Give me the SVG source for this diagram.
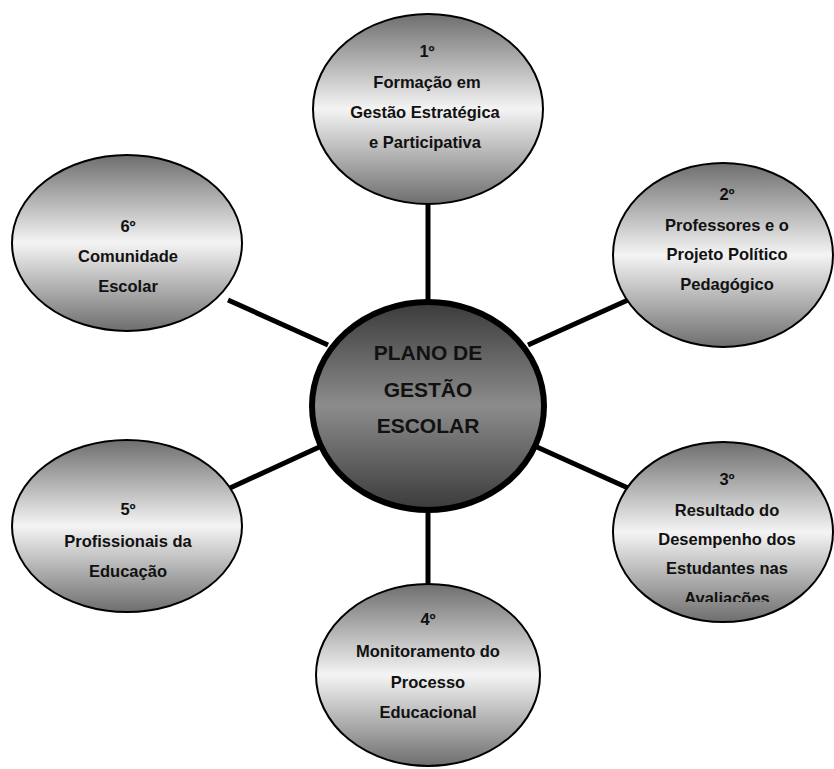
<svg xmlns="http://www.w3.org/2000/svg" width="834" height="769" viewBox="0 0 834 769">
  <defs>
    <linearGradient id="gOuter" x1="0" y1="0" x2="0" y2="1">
      <stop offset="0" stop-color="#6e6e6e"/>
      <stop offset="0.5" stop-color="#f4f4f4"/>
      <stop offset="1" stop-color="#6e6e6e"/>
    </linearGradient>
    <linearGradient id="gCenter" x1="0" y1="0" x2="0" y2="1">
      <stop offset="0" stop-color="#3a3a3a"/>
      <stop offset="0.5" stop-color="#8c8c8c"/>
      <stop offset="1" stop-color="#3a3a3a"/>
    </linearGradient>
    <clipPath id="clip3">
      <rect x="600" y="440" width="234" height="162"/>
    </clipPath>
  </defs>
  <style>
    .outer { fill: url(#gOuter); stroke: #000; stroke-width: 2; }
    .center { fill: url(#gCenter); stroke: #000; stroke-width: 6; }
    .conn { stroke: #000; stroke-width: 5; fill: none; stroke-linecap: butt; }
    .t { font-family: "Liberation Sans", Arial, sans-serif; font-weight: bold; font-size: 16.5px; fill: #111; text-anchor: middle; }
    .tc { font-family: "Liberation Sans", Arial, sans-serif; font-weight: bold; font-size: 21px; fill: #111; text-anchor: middle; }
  </style>
  <g id="connectors">
    <line class="conn" x1="428" y1="203" x2="428" y2="302"/>
    <line class="conn" x1="528" y1="345" x2="628" y2="300"/>
    <line class="conn" x1="528" y1="443" x2="628" y2="488"/>
    <line class="conn" x1="428" y1="508" x2="428" y2="585"/>
    <line class="conn" x1="328" y1="443" x2="230" y2="488"/>
    <line class="conn" x1="328" y1="345" x2="228" y2="300"/>
  </g>
  <g id="node1">
    <ellipse class="outer" cx="428" cy="109" rx="115" ry="95"/>
    <text class="t" x="427" y="57">1º</text>
    <text class="t" x="427" y="88">Formação em</text>
    <text class="t" x="425" y="118">Gestão Estratégica</text>
    <text class="t" x="425" y="148">e Participativa</text>
  </g>
  <g id="node2">
    <ellipse class="outer" cx="723" cy="255" rx="110" ry="92"/>
    <text class="t" x="727" y="200">2º</text>
    <text class="t" x="727" y="231">Professores e o</text>
    <text class="t" x="727" y="260">Projeto Político</text>
    <text class="t" x="727" y="290">Pedagógico</text>
  </g>
  <g id="node3">
    <ellipse class="outer" cx="723" cy="532" rx="110" ry="90"/>
    <g clip-path="url(#clip3)">
      <text class="t" x="727" y="485">3º</text>
      <text class="t" x="727" y="516">Resultado do</text>
      <text class="t" x="727" y="545">Desempenho dos</text>
      <text class="t" x="727" y="574">Estudantes nas</text>
      <text class="t" x="727" y="604">Avaliações</text>
    </g>
  </g>
  <g id="node4">
    <ellipse class="outer" cx="428" cy="675" rx="112" ry="91"/>
    <text class="t" x="428" y="625">4º</text>
    <text class="t" x="428" y="657">Monitoramento do</text>
    <text class="t" x="428" y="688">Processo</text>
    <text class="t" x="428" y="718">Educacional</text>
  </g>
  <g id="node5">
    <ellipse class="outer" cx="127" cy="526" rx="115" ry="86"/>
    <text class="t" x="128" y="515">5º</text>
    <text class="t" x="128" y="547">Profissionais da</text>
    <text class="t" x="128" y="577">Educação</text>
  </g>
  <g id="node6">
    <ellipse class="outer" cx="127" cy="243" rx="115" ry="88"/>
    <text class="t" x="128" y="232">6º</text>
    <text class="t" x="128" y="262">Comunidade</text>
    <text class="t" x="128" y="292">Escolar</text>
  </g>
  <g id="center">
    <ellipse class="center" cx="428" cy="406" rx="116" ry="104"/>
    <text class="tc" x="428" y="360">PLANO DE</text>
    <text class="tc" x="428" y="397">GESTÃO</text>
    <text class="tc" x="428" y="433">ESCOLAR</text>
  </g>
</svg>
